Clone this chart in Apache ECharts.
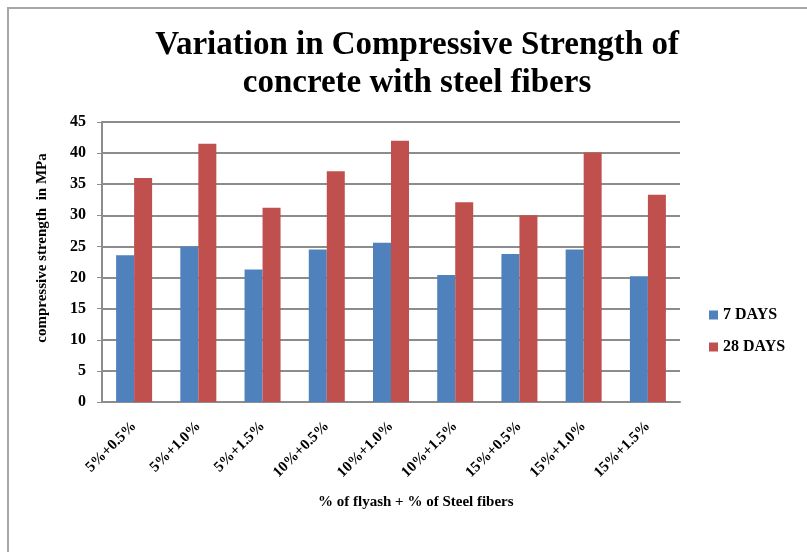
<!DOCTYPE html>
<html>
<head>
<meta charset="utf-8">
<script src="https://cdn.jsdelivr.net/npm/echarts@6/dist/echarts.min.js"></script>
<style>
	html, body { margin: 0; padding: 0; background: #fff; }
	#chart { width: 807px; height: 552px; }
</style>
</head>
<body>
<div id="chart"></div>
<script>
var categories = [ '5%+0.5%', '5%+1.0%', '5%+1.5%', '10%+0.5%', '10%+1.0%', '10%+1.5%', '15%+0.5%', '15%+1.0%', '15%+1.5%' ];
var days7 = [ 23.6, 25.0, 21.3, 24.5, 25.6, 20.4, 23.8, 24.5, 20.2 ];
var days28 = [ 36.0, 41.5, 31.2, 37.1, 42.0, 32.1, 30.0, 40.1, 33.3 ];
var yTicks = { min : 0, max : 45, interval : 5 };

var font = '"Liberation Serif", "Times New Roman", serif';
var myChart = echarts.init(document.getElementById('chart'));
var option = {
	animation : false,
	title : {
		text : 'Variation in Compressive Strength of\nconcrete with steel fibers',
		left : 412,
		top : 21,
		textAlign : 'center',
		textStyle : {
			fontFamily : font,
			fontWeight : 'bold',
			fontSize : 33,
			lineHeight : 38,
			color : '#000'
		}
	},
	graphic : [ {
		type : 'rect',
		shape : { x : 8, y : 8, width : 830, height : 580 },
		style : { fill : 'none', stroke : '#a6a6a6', lineWidth : 2 }
	}, {
		type : 'text',
		left : 318,
		top : 495,
		style : {
			text : '% of flyash + % of Steel fibers',
			font : 'bold 15px ' + font,
			fill : '#000'
		}
	} ],
	legend : {
		orient : 'vertical',
		left : 704,
		top : 302,
		itemWidth : 9,
		itemHeight : 9,
		itemGap : 16,
		icon : 'rect',
		textStyle : {
			fontFamily : font,
			fontWeight : 'bold',
			fontSize : 16,
			color : '#000'
		},
		data : [ '7 DAYS', '28 DAYS' ]
	},
	grid : {
		left : 102,
		right : 127,
		top : 122,
		bottom : 150
	},
	xAxis : {
		type : 'category',
		data : categories,
		axisTick : { show : false },
		axisLine : { lineStyle : { color : '#8c8c8c', width : 2 } },
		axisLabel : {
			interval : 0,
			rotate : 45,
			margin : 22,
			fontFamily : font,
			fontWeight : 'bold',
			fontSize : 15,
			color : '#000'
		}
	},
	yAxis : {
		type : 'value',
		min : yTicks.min,
		max : yTicks.max,
		interval : yTicks.interval,
		name : 'compressive strength  in MPa',
		nameLocation : 'middle',
		nameGap : 52,
		nameTextStyle : {
			fontFamily : font,
			fontWeight : 'bold',
			fontSize : 15,
			color : '#000',
			padding : [ 0, 0, 0, 28 ]
		},
		axisLine : { show : true, lineStyle : { color : '#8c8c8c', width : 2 } },
		axisTick : { show : true, length : 5, lineStyle : { color : '#8c8c8c' } },
		splitLine : { lineStyle : { color : '#8c8c8c', width : 2 } },
		axisLabel : {
			margin : 16,
			fontFamily : font,
			fontWeight : 'bold',
			fontSize : 16,
			color : '#000'
		}
	},
	series : [ {
		name : '7 DAYS',
		type : 'bar',
		data : days7,
		barWidth : 18,
		barGap : '0%',
		itemStyle : { color : '#4f81bd' }
	}, {
		name : '28 DAYS',
		type : 'bar',
		data : days28,
		barWidth : 18,
		itemStyle : { color : '#c0504d' }
	} ]
};
myChart.setOption(option);
</script>
</body>
</html>
